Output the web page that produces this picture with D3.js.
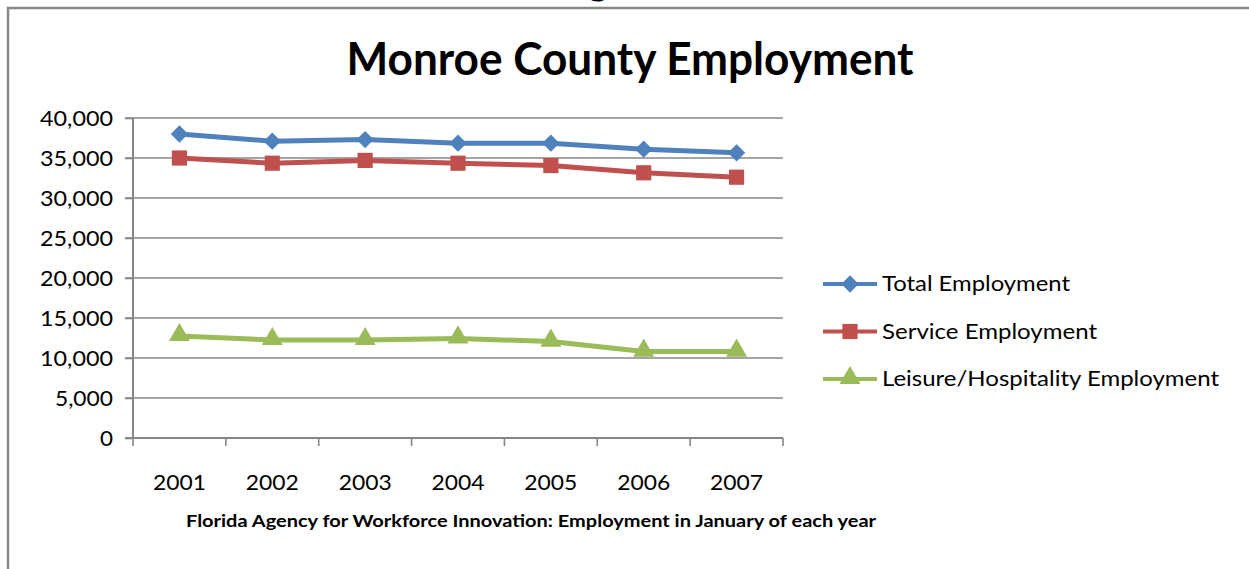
<!DOCTYPE html>
<html>
<head>
<meta charset="utf-8">
<script src="https://cdn.jsdelivr.net/npm/d3@7"></script>
<style>
    body { margin: 0; background: #fff; }
    svg { display: block; }
    text { font-family: Lato, "Open Sans", sans-serif; fill: #000; }
</style>
</head>
<body>
<div id="chart"></div>
<script>
var years = ['2001', '2002', '2003', '2004', '2005', '2006', '2007'];
var totalEmployment = [38000, 37100, 37300, 36850, 36850, 36100, 35650];
var serviceEmployment = [35000, 34350, 34700, 34350, 34050, 33150, 32600];
var leisureEmployment = [12750, 12250, 12250, 12450, 12050, 10800, 10800];
var seriesNames = ['Total Employment', 'Service Employment', 'Leisure/Hospitality Employment'];
var yTicks = [0, 5000, 10000, 15000, 20000, 25000, 30000, 35000, 40000];

var width = 1249,
    height = 569,
    margin = { top: 118, left: 133, right: 466, bottom: 131 },
    colors = ['#4F81BD', '#C0504D', '#9BBB59'],
    symbols = [d3.symbolSquare, d3.symbolSquare, d3.symbolTriangle],
    symbolSizes = [150, 230, 190],
    rotations = [45, 0, 0];

var series = seriesNames.map(function (name, i) {
    var vals = [totalEmployment, serviceEmployment, leisureEmployment][i];
    return { name: name, values: years.map(function (y, j) { return { year: y, value: vals[j] }; }) };
});

var chartWidth = width - margin.left - margin.right,
    chartHeight = height - margin.top - margin.bottom;

var svg = d3.select('#chart').append('svg')
    .attr('width', width)
    .attr('height', height);

// frame of the chart object (runs off the right and bottom edge)
svg.append('path')
    .attr('d', 'M8,' + (height + 5) + 'V8H' + (width + 5))
    .attr('fill', 'none')
    .attr('stroke', '#888')
    .attr('stroke-width', 2.5);

// cut-off text above the frame
svg.append('text')
    .attr('x', 598).attr('y', -6)
    .attr('text-anchor', 'middle')
    .style('font-size', '40px').style('font-weight', 'bold')
    .text('g');

svg.append('text')
    .attr('x', 630).attr('y', 75)
    .attr('text-anchor', 'middle')
    .attr('textLength', 567).attr('lengthAdjust', 'spacingAndGlyphs')
    .style('font-size', '46px').style('font-weight', 'bold')
    .text('Monroe County Employment');

var xScale = d3.scaleBand().domain(years).range([0, chartWidth]).padding(0);
var yScale = d3.scaleLinear().domain([0, 40000]).range([chartHeight, 0]);

var g = svg.append('g')
    .attr('transform', 'translate(' + margin.left + ',' + margin.top + ')');

// gridlines
g.append('g').selectAll('line')
    .data(yTicks.slice(1))
    .enter().append('line')
    .attr('x1', -8).attr('x2', chartWidth)
    .attr('y1', function (d) { return yScale(d); })
    .attr('y2', function (d) { return yScale(d); })
    .attr('stroke', '#868686')
    .attr('stroke-width', 1.6);

var yAxis = d3.axisLeft(yScale)
    .tickValues(yTicks)
    .tickFormat(d3.format(','))
    .tickSize(8)
    .tickPadding(12);

var yG = g.append('g').call(yAxis);
yG.select('.domain').attr('stroke', '#868686').attr('stroke-width', 2).attr('d', 'M0,0V' + chartHeight);
yG.selectAll('.tick line').attr('stroke', '#868686').attr('stroke-width', 1.6);
yG.selectAll('text')
    .style('font-size', '21px')
    .attr('dy', '0.35em')
    .attr('textLength', function (d) { return d3.format(',')(d).length > 1 ? (d >= 10000 ? 73 : 58) : 13; })
    .attr('lengthAdjust', 'spacingAndGlyphs');

// x axis: ticks between categories
var xG = g.append('g').attr('transform', 'translate(0,' + chartHeight + ')');
xG.append('line')
    .attr('x1', -8).attr('x2', chartWidth)
    .attr('stroke', '#868686').attr('stroke-width', 2);
xG.selectAll('.xtick')
    .data(years.concat(['end']))
    .enter().append('line')
    .attr('class', 'xtick')
    .attr('x1', function (d, i) { return i * xScale.step(); })
    .attr('x2', function (d, i) { return i * xScale.step(); })
    .attr('y1', 0).attr('y2', 8)
    .attr('stroke', '#868686').attr('stroke-width', 1.6);
xG.selectAll('.xlabel')
    .data(years)
    .enter().append('text')
    .attr('class', 'xlabel')
    .attr('x', function (d) { return xScale(d) + xScale.bandwidth() / 2; })
    .attr('y', 52)
    .attr('text-anchor', 'middle')
    .attr('textLength', 53).attr('lengthAdjust', 'spacingAndGlyphs')
    .style('font-size', '21px')
    .text(function (d) { return d; });

svg.append('text')
    .attr('x', 531).attr('y', 527)
    .attr('text-anchor', 'middle')
    .attr('textLength', 690).attr('lengthAdjust', 'spacingAndGlyphs')
    .style('font-size', '17px').style('font-weight', 'bold')
    .text('Florida Agency for Workforce Innovation: Employment in January of each year');

var line = d3.line()
    .x(function (d) { return xScale(d.year) + xScale.bandwidth() / 2; })
    .y(function (d) { return yScale(d.value); });

var sG = g.selectAll('.series')
    .data(series)
    .enter().append('g')
    .attr('class', 'series');

sG.append('path')
    .attr('d', function (d) { return line(d.values); })
    .attr('fill', 'none')
    .attr('stroke', function (d, i) { return colors[i]; })
    .attr('stroke-width', 5)
    .attr('stroke-linejoin', 'round');

sG.each(function (s, i) {
    d3.select(this).selectAll('.marker')
        .data(s.values)
        .enter().append('path')
        .attr('class', 'marker')
        .attr('transform', function (d) {
            return 'translate(' + (xScale(d.year) + xScale.bandwidth() / 2) + ',' + (yScale(d.value) + (i == 2 ? -1 : 0)) + ') rotate(' + rotations[i] + ')';
        })
        .attr('d', d3.symbol().type(symbols[i]).size(symbolSizes[i]))
        .attr('fill', colors[i]);
});

// legend
var legend = svg.append('g').attr('transform', 'translate(823,284)');
var item = legend.selectAll('.item')
    .data(series)
    .enter().append('g')
    .attr('transform', function (d, i) { return 'translate(0,' + (i * 47.5) + ')'; });
item.append('line')
    .attr('x1', 0).attr('x2', 54)
    .attr('stroke', function (d, i) { return colors[i]; })
    .attr('stroke-width', 4);
item.append('path')
    .attr('transform', function (d, i) { return 'translate(27,' + (i == 2 ? -1 : 0) + ') rotate(' + rotations[i] + ')'; })
    .attr('d', function (d, i) { return d3.symbol().type(symbols[i]).size(symbolSizes[i])(); })
    .attr('fill', function (d, i) { return colors[i]; });
item.append('text')
    .attr('x', 59).attr('dy', '0.35em')
    .attr('textLength', function (d, i) { return [188, 215, 337][i]; })
    .attr('lengthAdjust', 'spacingAndGlyphs')
    .style('font-size', '21px')
    .text(function (d) { return d.name; });
</script>
</body>
</html>
